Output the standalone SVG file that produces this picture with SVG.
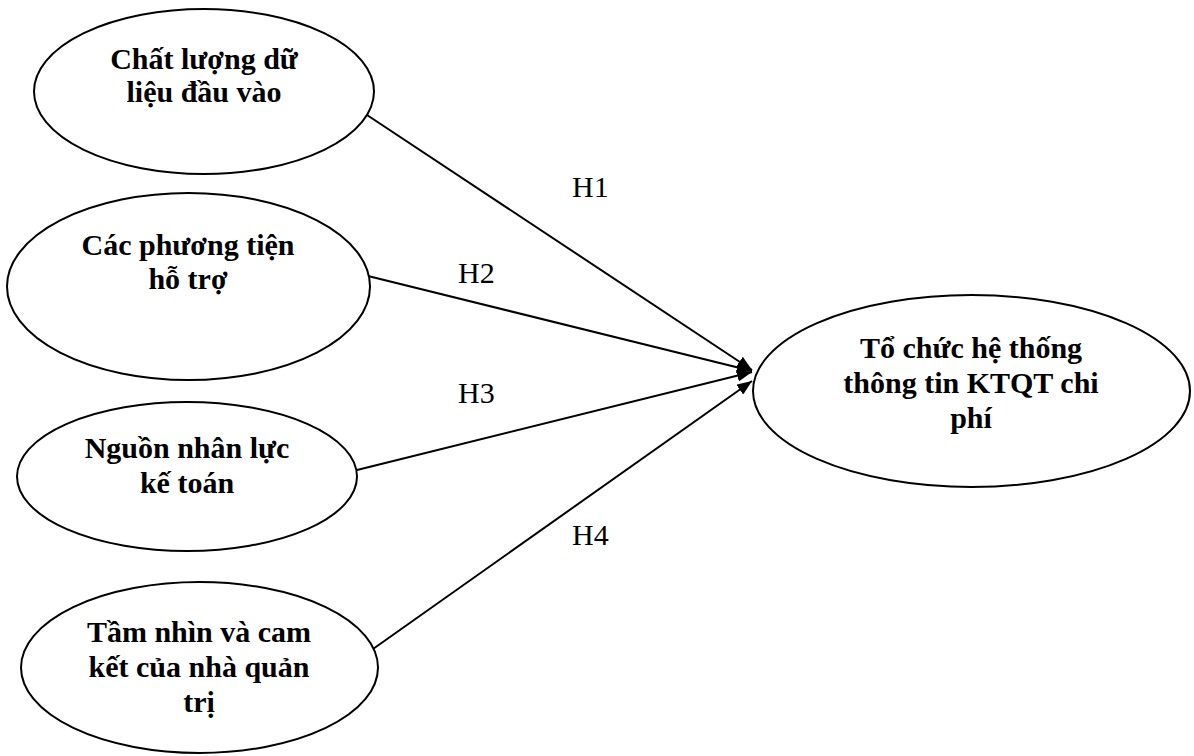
<svg xmlns="http://www.w3.org/2000/svg" width="1194" height="756" viewBox="0 0 1194 756">
  <style>
    .node ellipse { fill: #fff; stroke: #000; stroke-width: 2; }
    .node text { font-family: "Liberation Serif", "Times New Roman", serif; font-size: 30px; font-weight: bold; text-anchor: middle; fill: #000; }
    .edge line { stroke: #000; stroke-width: 2; }
    .lbl { font-family: "Liberation Serif", "Times New Roman", serif; font-size: 30px; fill: #000; }
  </style>
  <defs>
    <marker id="arrow" markerUnits="userSpaceOnUse" markerWidth="16" markerHeight="12" refX="15" refY="6" orient="auto">
      <path d="M0,0 L15,6 L0,12 Z" fill="#000"/>
    </marker>
  </defs>
  <rect width="1194" height="756" fill="#fff"/>

  <!-- connectors -->
  <g id="connectors" class="edge">
    <line x1="367" y1="115" x2="752" y2="370" marker-end="url(#arrow)"/>
    <line x1="368" y1="276" x2="752" y2="371" marker-end="url(#arrow)"/>
    <line x1="357" y1="470" x2="752" y2="372" marker-end="url(#arrow)"/>
    <line x1="373" y1="649" x2="752" y2="381" marker-end="url(#arrow)"/>
    <text class="lbl" x="572" y="197">H1</text>
    <text class="lbl" x="458" y="283">H2</text>
    <text class="lbl" x="458" y="403">H3</text>
    <text class="lbl" x="572" y="545">H4</text>
  </g>

  <g id="n1" class="node">
    <ellipse cx="204" cy="91.5" rx="170" ry="82.5"/>
    <text x="204" y="69">Chất lượng dữ</text>
    <text x="204" y="102">liệu đầu vào</text>
  </g>

  <g id="n2" class="node">
    <ellipse cx="188.5" cy="286.5" rx="181.5" ry="93.5"/>
    <text x="188" y="255">Các phương tiện</text>
    <text x="188" y="289">hỗ trợ</text>
  </g>

  <g id="n3" class="node">
    <ellipse cx="187" cy="476.5" rx="170" ry="74.5"/>
    <text x="187" y="458">Nguồn nhân lực</text>
    <text x="187" y="493">kế toán</text>
  </g>

  <g id="n4" class="node">
    <ellipse cx="199.5" cy="667.5" rx="178.5" ry="85.5"/>
    <text x="199" y="642">Tầm nhìn và cam</text>
    <text x="199" y="677">kết của nhà quản</text>
    <text x="199" y="712">trị</text>
  </g>

  <g id="n5" class="node">
    <ellipse cx="971.5" cy="391" rx="218.5" ry="96"/>
    <text x="971" y="358">Tổ chức hệ thống</text>
    <text x="971" y="393">thông tin KTQT chi</text>
    <text x="971" y="428">phí</text>
  </g>
</svg>
